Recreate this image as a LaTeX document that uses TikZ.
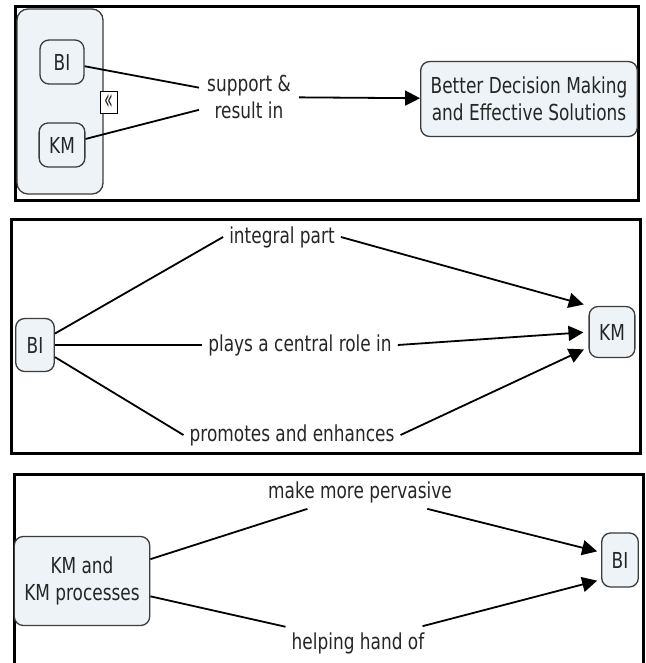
\documentclass[tikz,border=0pt]{standalone}
\usepackage{fontspec}
\setmainfont{DejaVu Sans}[FakeStretch=0.77]
\usepackage{graphicx}
\usepackage{tikz}
\usetikzlibrary{positioning,shapes,arrows.meta,calc}
\definecolor{conceptfill}{RGB}{237,243,246}
\definecolor{conceptline}{RGB}{60,60,60}
\tikzstyle{concept}=[rectangle, draw=conceptline, line width=1.3pt, rounded corners=9pt, fill=conceptfill, text centered, align=center, inner xsep=10pt, minimum height=50pt]
\tikzstyle{linklabel}=[rectangle, align=center, inner xsep=6pt, inner ysep=6pt]
\tikzstyle{panel}=[draw=black, line width=3pt]
\tikzstyle{link}=[line width=1.8pt]
\tikzstyle{linkarrow}=[-{Triangle[length=15pt,width=15pt]}, line width=1.8pt, shorten >=5pt]

\begin{document}
\begin{tikzpicture}[x=1pt, y=-1pt, font=\fontsize{22}{27}\selectfont, text=black!85]
        \clip (0,0) rectangle (645,663);

        % Panel 1
        \draw[panel] (15,7) rectangle (638,200);
        \node (group) [concept, minimum width=86pt, minimum height=185pt, rounded corners=11pt] at (60,101.5) {};
        \node (BI-a) [concept, minimum width=44pt, minimum height=44pt] at (62,62) {BI};
        \node (KM-a) [concept, below of=BI-a, node distance=83pt, minimum width=44pt, minimum height=44pt] {KM};
        \node (collapse) [draw=black, fill=white, line width=0.8pt, minimum width=17pt, minimum height=22pt, inner sep=0pt, font=\fontsize{17}{17}\selectfont] at (108.5,102) {\scalebox{1.1}[1.7]{«}};
        \node (support) [linklabel, inner xsep=8pt] at (249,97) {support \&\\result in};
        \node (decision) [concept, minimum width=212pt, minimum height=75pt] at (529,99) {Better Decision Making\\and Effective Solutions};

        \draw[link] (BI-a) -- (support);
        \draw[link] (KM-a) -- (support);
        \draw[linkarrow, shorten >=0pt] (support) -- (decision);

        % Panel 2
        \draw[panel] (11,219) rectangle (640,453);
        \node (BI-b) [concept, minimum height=53pt, inner xsep=11pt] at (35,345) {BI};
        \node (KM-b) [concept, minimum height=51pt] at (612,332) {KM};
        \node (integral) [linklabel] at (282,237) {integral part};
        \node (central) [linklabel] at (300,345) {plays a central role in};
        \node (promotes) [linklabel] at (292,435) {promotes and enhances};

        \draw[link] (BI-b) -- (integral.west);
        \draw[link] (BI-b) -- (central.west);
        \draw[link] (BI-b) -- (promotes.west);
        \draw[linkarrow] (integral.east) -- (KM-b.north west);
        \draw[linkarrow] (central.east) -- (KM-b.west);
        \draw[linkarrow] (promotes.east) -- (KM-b.213);

        % Panel 3
        \draw[panel] (14,474) rectangle (643,700);
        \node (KMP) [concept, minimum width=132pt, minimum height=89pt] at (82,581) {KM and\\KM processes};
        \node (BI-c) [concept, minimum height=54pt] at (620,560) {BI};
        \node (pervasive) [linklabel] at (360,492) {make more pervasive};
        \node (helping) [linklabel] at (358,643) {helping hand of};

        \draw[link] (KMP) -- (pervasive);
        \draw[link] (KMP) -- (helping);
        \draw[linkarrow, shorten >=4pt] (pervasive) -- (BI-c.158);
        \draw[linkarrow, shorten >=4pt] (helping) -- (BI-c.226);
\end{tikzpicture}
\end{document}
